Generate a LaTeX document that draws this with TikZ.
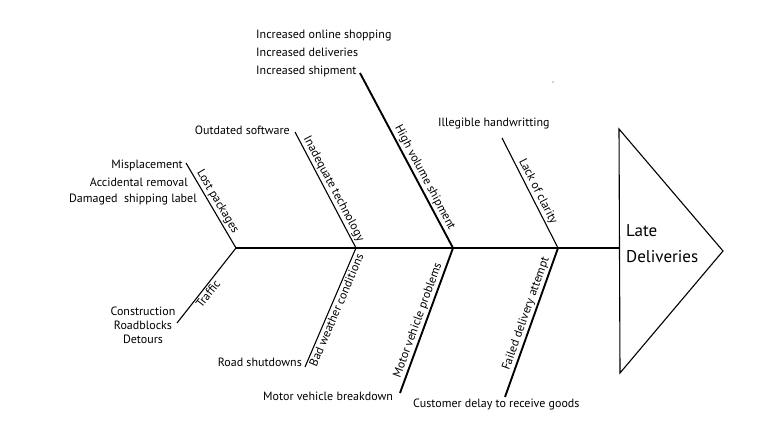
\documentclass[tikz,border=0pt]{standalone}
\usepackage{fontspec}
\setmainfont{PT Sans}
\tikzset{
  bone/.style={line width=1.1pt},
  bigbone/.style={line width=1.9pt},
  cause/.style={font=\fontsize{12}{14}\selectfont, inner sep=1pt},
  lbl/.style={font=\fontsize{12}{14}\selectfont, sloped, inner sep=1.5pt},
}
\begin{document}
\begin{tikzpicture}[x=1pt,y=-1pt]
\useasboundingbox (0,0) rectangle (783,427);
% spine joints
\coordinate (tail) at (236,248);
\coordinate (j1) at (356,248);
\coordinate (j2) at (453,248);
\coordinate (j3) at (558,248);
\coordinate (head) at (619,248);
% bone ends
\coordinate (lpTop) at (186,163);
\coordinate (trBot) at (177,323);
\coordinate (itTop) at (295,132);
\coordinate (bwBot) at (305,367);
\coordinate (hvTop) at (360,73);
\coordinate (mvBot) at (400,393);
\coordinate (lcTop) at (502,138);
\coordinate (fdBot) at (505,397);
% head triangle
\coordinate (hA) at (619,129);
\coordinate (hB) at (723,251);
\coordinate (hC) at (620,373);
\draw[bone] (hA) -- (hB) -- (hC) -- cycle;
\node[font=\fontsize{17}{26}\selectfont, align=left, anchor=west, inner sep=0pt] (effect) at (626,244) {Late\\Deliveries};
% spine
\draw[bone] (tail) -- (head);
% bones
\draw[bone] (lpTop) -- node[lbl, above, pos=0.5] (lplbl) {Lost packages} (tail);
\draw[bone] (trBot) -- node[lbl, below, pos=0.44] (trlbl) {Traffic} (tail);
\draw[bone] (itTop) -- node[lbl, above, pos=0.52] (itlbl) {Inadequate technology} (j1);
\draw[bone] (bwBot) -- node[lbl, below, pos=0.5] (bwlbl) {Bad weather conditions} (j1);
\draw[bigbone] (hvTop) -- node[lbl, above, pos=0.62] (hvlbl) {High volume shipment} (j2);
\draw[bigbone] (mvBot) -- node[lbl, above, pos=0.48] (mvlbl) {Motor vehicle problems} (j2);
\draw[bone] (lcTop) -- node[lbl, above, pos=0.52] (lclbl) {Lack of clarity} (j3);
\draw[bigbone] (fdBot) -- node[lbl, above, pos=0.54] (fdlbl) {Failed delivery attempt} (j3);
% causes
\node[cause, align=left, anchor=west, font=\fontsize{12}{18}\selectfont] (hvc) at (255,53) {Increased online shopping\\Increased deliveries\\Increased shipment};
\node[cause, anchor=east] (osw) at (291,130) {Outdated software};
\node[cause, anchor=east] (mis) at (184,165) {Misplacement};
\node[cause, anchor=east] (acc) at (189,182) {Accidental removal};
\node[cause, anchor=east] (dam) at (198,200) {Damaged\ \ shipping label};
\node[cause, align=center] (con) at (143,325) {Construction\\Roadblocks\\Detours};
\node[cause, anchor=east] (rsd) at (303,362) {Road shutdowns};
\node[cause, anchor=west] (mvb) at (262,396) {Motor vehicle breakdown};
\node[cause, anchor=west] (cdr) at (412,404) {Customer delay to receive goods};
\node[cause, anchor=west] (ilh) at (437,124) {Illegible handwritting};
% stray dot
\fill[blue!40] (553,82) circle (0.8);
\end{tikzpicture}
\end{document}
